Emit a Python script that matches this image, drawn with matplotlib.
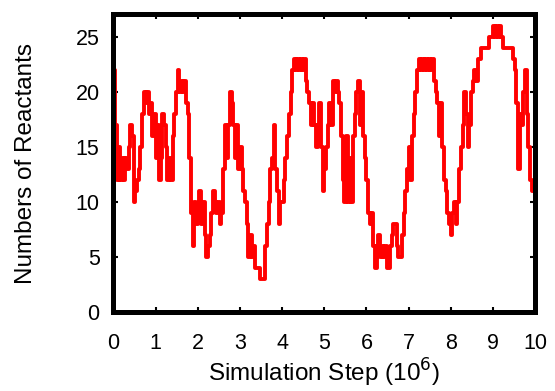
import numpy as np
import matplotlib
matplotlib.use("Agg")
import matplotlib.pyplot as plt

plt.rcParams['font.family'] = ['Liberation Sans', 'DejaVu Sans']

# simulation step (10^6), sampled every 0.04
step = 0.04
# number of reactants, one row per unit of x
y0 = [22, 17, 12, 15, 12, 14, 12, 14, 13, 15, 17, 16, 10, 11, 12, 13, 15, 18, 20, 19, 20, 18, 19, 16, 18]
y1 = [14, 17, 12, 14, 18, 17, 15, 12, 14, 12, 16, 18, 20, 22, 20, 21, 20, 21, 19, 18, 14, 9, 6, 10, 8]
y2 = [9, 11, 8, 10, 7, 5, 6, 7, 9, 11, 10, 9, 10, 8, 9, 13, 17, 14, 17, 20, 19, 17, 14, 17, 13]
y3 = [15, 13, 11, 10, 8, 5, 7, 5, 6, 4, 4, 4, 3, 3, 3, 6, 8, 10, 13, 14, 17, 13, 11, 8, 10]
y4 = [10, 12, 14, 16, 18, 20, 22, 23, 22, 23, 22, 23, 22, 23, 21, 20, 19, 17, 19, 17, 15, 17, 19, 15, 11]
y5 = [13, 15, 17, 19, 17, 21, 20, 21, 20, 19, 16, 12, 10, 16, 10, 14, 10, 16, 18, 20, 21, 17, 20, 16, 14]
y6 = [12, 9, 8, 9, 6, 4, 6, 7, 5, 6, 5, 6, 4, 4, 6, 7, 8, 8, 6, 5, 5, 7, 9, 11, 13]
y7 = [15, 12, 16, 18, 20, 22, 23, 22, 23, 22, 23, 22, 23, 22, 23, 21, 20, 19, 16, 19, 15, 12, 11, 9, 8]
y8 = [7, 9, 10, 8, 10, 13, 15, 17, 20, 18, 15, 17, 20, 21, 22, 21, 23, 23, 24, 24, 24, 24, 24, 25, 25]
y9 = [26, 25, 26, 25, 26, 25, 24, 24, 24, 24, 24, 24, 23, 22, 19, 13, 18, 17, 20, 22, 18, 15, 12, 11, 11, 11]

reactants = np.array(y0 + y1 + y2 + y3 + y4 + y5 + y6 + y7 + y8 + y9)
sim_step = np.arange(len(reactants)) * step

fig = plt.figure(figsize=(5.55, 3.91), dpi=100)
ax = fig.add_axes([0.2045, 0.201, 0.7595, 0.762])

ax.plot(sim_step, reactants, color='#ff0000', lw=2.8, drawstyle='steps-post')

ax.set_xlim(0, 10)
ax.set_ylim(0, 27)
ax.set_xticks(np.arange(0, 11, 1))
ax.set_yticks(np.arange(0, 26, 5))

for s in ax.spines.values():
    s.set_linewidth(3.6)
ax.tick_params(direction='in', length=3.5, width=1.5, top=True, right=True,
               labelsize=15.5)
ax.tick_params(axis='x', pad=15)
ax.tick_params(axis='y', pad=10)

ax.set_xlabel('Simulation Step (10$^6$)', fontsize=17.5, labelpad=2)
ax.set_ylabel('Numbers of Reactants', fontsize=17.5, labelpad=28)

fig.savefig('out.png', dpi=100)
